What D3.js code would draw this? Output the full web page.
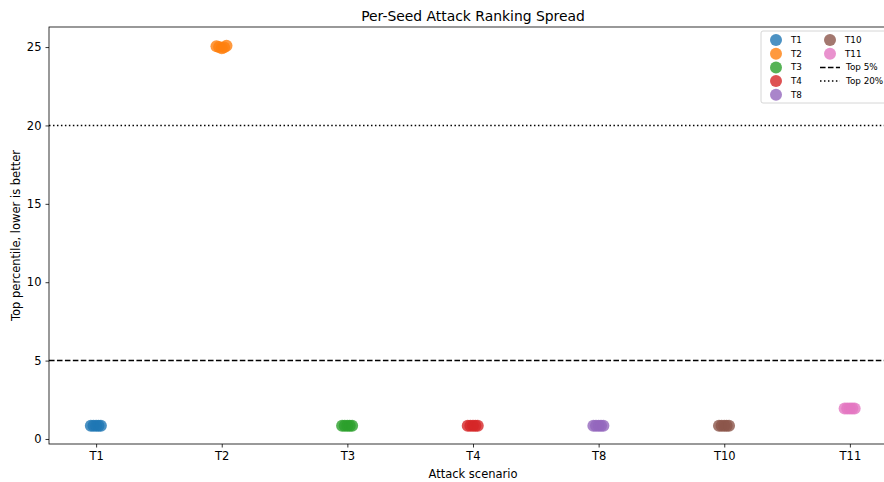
<!DOCTYPE html>
<html>
<head>
<meta charset="utf-8">
<script src="https://cdn.jsdelivr.net/npm/d3@7"></script>
<style>
  html, body { margin: 0; padding: 0; background: #fff; }
  svg { display: block; font-family: "DejaVu Sans", sans-serif; }
</style>
</head>
<body>
<svg id="chart" width="884" height="482"></svg>
<script>
// Attack scenarios and per-seed top-percentile rankings
const categories = ["T1", "T2", "T3", "T4", "T8", "T10", "T11"];
const seedJitter = [-0.042, -0.021, 0.0, 0.019, 0.038];
const valuesT1  = [0.85, 0.85, 0.85, 0.85, 0.85];
const valuesT2  = [25.05, 25.0, 24.92, 24.98, 25.08];
const valuesT3  = [0.85, 0.85, 0.85, 0.85, 0.85];
const valuesT4  = [0.85, 0.85, 0.85, 0.85, 0.85];
const valuesT8  = [0.85, 0.85, 0.85, 0.85, 0.85];
const valuesT10 = [0.85, 0.85, 0.85, 0.85, 0.85];
const valuesT11 = [1.95, 1.95, 1.95, 1.95, 1.95];
const seriesValues = [valuesT1, valuesT2, valuesT3, valuesT4, valuesT8, valuesT10, valuesT11];
const yTicks = [0, 5, 10, 15, 20, 25];
const thresholds = [
  { label: "Top 5%", value: 5, dash: "5.55,2.4" },
  { label: "Top 20%", value: 20, dash: "1.5,2.475" }
];
const colors = ["#1f77b4", "#ff7f0e", "#2ca02c", "#d62728", "#9467bd", "#8c564b", "#e377c2"];

const svg = d3.select("#chart");
const plot = { left: 49, top: 27, right: 897, bottom: 444 };

const x = d3.scaleLinear().domain([-0.375, 6.375]).range([plot.left, plot.right]);
const y = d3.scaleLinear().domain([-0.32, 26.28]).range([plot.bottom, plot.top]);

// Plot-area clip
svg.append("defs").append("clipPath").attr("id", "clip")
  .append("rect").attr("x", plot.left).attr("y", plot.top)
  .attr("width", plot.right - plot.left).attr("height", plot.bottom - plot.top);

// Threshold lines
svg.append("g").attr("clip-path", "url(#clip)")
  .selectAll("line").data(thresholds).join("line")
  .attr("x1", plot.left).attr("x2", plot.right)
  .attr("y1", d => y(d.value)).attr("y2", d => y(d.value))
  .attr("stroke", "#000").attr("stroke-width", 1.5)
  .attr("stroke-dasharray", d => d.dash);

// Per-seed points
const points = [];
categories.forEach((c, i) => {
  seriesValues[i].forEach((v, s) => points.push({ cat: i, pos: i + seedJitter[s], v }));
});
svg.append("g").attr("clip-path", "url(#clip)")
  .selectAll("circle").data(points).join("circle")
  .attr("cx", d => x(d.pos)).attr("cy", d => y(d.v)).attr("r", 6)
  .attr("fill", d => colors[d.cat]).attr("fill-opacity", 0.8);

// Axes
const xAxis = svg.append("g").attr("transform", `translate(0,${plot.bottom})`)
  .call(d3.axisBottom(x).tickValues(d3.range(categories.length))
    .tickFormat(i => categories[i]).tickSize(3.5).tickPadding(4));
const yAxis = svg.append("g").attr("transform", `translate(${plot.left},0)`)
  .call(d3.axisLeft(y).tickValues(yTicks).tickSize(3.5).tickPadding(4));
[xAxis, yAxis].forEach(a => {
  a.select(".domain").remove();
  a.selectAll("line").attr("stroke", "#000").attr("stroke-width", 0.8);
  a.selectAll("text").attr("font-size", 11.5).attr("fill", "#000")
    .attr("font-family", "DejaVu Sans, sans-serif");
});

// Frame
svg.append("rect").attr("x", plot.left).attr("y", plot.top)
  .attr("width", plot.right - plot.left).attr("height", plot.bottom - plot.top)
  .attr("fill", "none").attr("stroke", "#000").attr("stroke-width", 0.8);

// Title and axis labels
svg.append("text").attr("x", (plot.left + plot.right) / 2).attr("y", 21)
  .attr("text-anchor", "middle").attr("font-size", 13.9).text("Per-Seed Attack Ranking Spread");
svg.append("text").attr("x", (plot.left + plot.right) / 2).attr("y", 478)
  .attr("text-anchor", "middle").attr("font-size", 11.5).text("Attack scenario");
svg.append("text")
  .attr("transform", `translate(20,${(plot.top + plot.bottom) / 2}) rotate(-90)`)
  .attr("text-anchor", "middle").attr("font-size", 11.5).text("Top percentile, lower is better");

// Legend
const legend = svg.append("g").attr("transform", "translate(761,31)");
legend.append("rect").attr("x", 0).attr("y", 0).attr("width", 140).attr("height", 72)
  .attr("rx", 2).attr("fill", "#fff").attr("fill-opacity", 0.8)
  .attr("stroke", "#ccc").attr("stroke-width", 0.8);
const rowH = 13.7;
const legendItems = categories.map((c, i) => ({ label: c, kind: "dot", color: colors[i] }))
  .concat(thresholds.map(t => ({ label: t.label, kind: "line", dash: t.dash })));
const colLen = 5;
const items = legend.selectAll("g.item").data(legendItems).join("g").attr("class", "item")
  .attr("transform", (d, i) => {
    const col = Math.floor(i / colLen), row = i % colLen;
    return `translate(${col === 0 ? 15 : 69},${9 + row * rowH})`;
  });
items.filter(d => d.kind === "dot").append("circle")
  .attr("cx", 0).attr("cy", 0).attr("r", 6)
  .attr("fill", d => d.color).attr("fill-opacity", 0.8);
items.filter(d => d.kind === "line").append("line")
  .attr("x1", -10).attr("x2", 10).attr("y1", 0).attr("y2", 0)
  .attr("stroke", "#000").attr("stroke-width", 1.5).attr("stroke-dasharray", d => d.dash);
items.append("text").attr("x", d => d.kind === "dot" ? 15 : 16).attr("y", 0).attr("dy", "0.35em")
  .attr("font-size", 8.8).text(d => d.label);
</script>
</body>
</html>
